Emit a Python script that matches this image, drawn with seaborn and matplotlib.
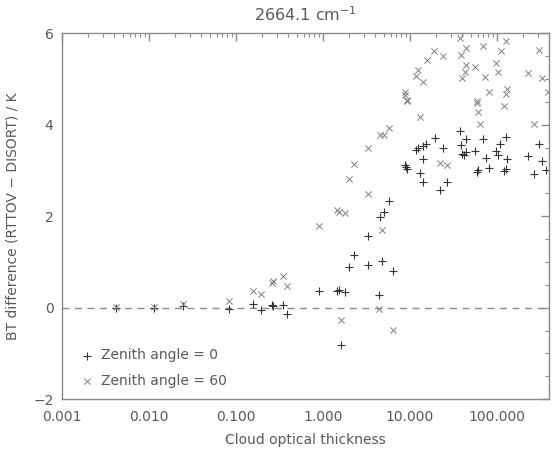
import numpy as np
import pandas as pd
import matplotlib
matplotlib.use("Agg")
import matplotlib.pyplot as plt
from matplotlib.ticker import LogLocator, MultipleLocator, FixedLocator, FixedFormatter, NullFormatter
import seaborn as sns

# Zenith angle = 0 (plus markers)
tau_z0 = [0.0042, 0.0114, 0.0245, 0.083, 0.156, 0.196, 0.262, 0.27, 0.348, 0.386,
          0.906, 1.45, 1.55, 1.81, 1.63, 2.0, 2.26, 3.30, 3.30, 4.41, 4.74, 6.44,
          4.55, 5.05, 5.79, 8.77, 9.0, 9.17,
          37.4, 44.7, 69.2, 126, 19.4, 15.5, 14.2, 24.1, 38.4, 108, 309, 12.4, 11.9,
          39.8, 41.5, 44.7, 55.6, 98.6, 103, 74.3, 130, 227, 332, 369, 14.2, 13.0,
          60.7, 59.5, 81.1, 126, 120, 271, 14.2, 26.9, 22.1]
diff_z0 = [0.00, -0.01, 0.03, -0.03, 0.07, -0.05, 0.05, 0.03, 0.05, -0.13,
           0.36, 0.37, 0.38, 0.34, -0.82, 0.89, 1.16, 1.57, 0.94, 0.27, 1.01, 0.81,
           1.98, 2.09, 2.34, 3.13, 3.07, 3.04,
           3.86, 3.68, 3.69, 3.73, 3.72, 3.57, 3.53, 3.50, 3.55, 3.59, 3.57, 3.50, 3.44,
           3.37, 3.34, 3.40, 3.42, 3.42, 3.33, 3.28, 3.25, 3.31, 3.20, 3.02, 3.26, 2.94,
           3.02, 2.97, 3.06, 3.04, 2.98, 2.93, 2.74, 2.74, 2.57]

# Zenith angle = 60 (cross markers)
tau_z60 = [0.0042, 0.0114, 0.0245, 0.083, 0.156, 0.196, 0.262, 0.27, 0.348, 0.386,
           0.906, 1.45, 1.55, 1.81, 1.63, 2.0, 2.26, 3.30, 3.30, 4.41, 4.74, 6.44,
           4.55, 5.05, 5.79, 8.77, 8.77, 9.17, 9.17,
           37.4, 126, 69.2, 44.7, 19.2, 24.1, 38.4, 112, 303, 15.8, 98.6, 44.7, 55.6,
           12.4, 42.7, 103, 227, 11.9, 39.8, 73.8, 14.2, 332, 81.1, 130, 128, 385,
           59.1, 59.1, 60.7, 120, 13.0, 63.4, 271, 22.1, 26.4]
diff_z60 = [0.02, 0.01, 0.07, 0.15, 0.36, 0.31, 0.55, 0.58, 0.69, 0.48,
            1.79, 2.13, 2.10, 2.06, -0.27, 2.82, 3.14, 3.50, 2.49, -0.02, 1.69, -0.49,
            3.77, 3.77, 3.93, 4.71, 4.66, 4.53, 4.55,
            5.90, 5.84, 5.73, 5.68, 5.61, 5.51, 5.53, 5.61, 5.64, 5.42, 5.36, 5.31, 5.27,
            5.19, 5.15, 5.15, 5.14, 5.06, 5.02, 5.04, 4.93, 5.02, 4.71, 4.79, 4.68, 4.71,
            4.51, 4.48, 4.29, 4.40, 4.17, 4.02, 4.02, 3.16, 3.13]

x_ticks = [0.001, 0.01, 0.1, 1, 10, 100]
x_labels = ["0.001", "0.010", "0.100", "1.000", "10.000", "100.000"]
y_ticks = [-2, 0, 2, 4, 6]

sns.set_style("white")
TXT = "#5a5a5a"
plt.rcParams["font.family"] = ["DejaVu Sans"]
plt.rcParams["font.size"] = 10

df0 = pd.DataFrame({"tau": tau_z0, "diff": diff_z0})
df60 = pd.DataFrame({"tau": tau_z60, "diff": diff_z60})

fig = plt.figure(figsize=(5.57, 4.5), dpi=100)
ax = fig.add_axes([0.111, 0.113, 0.875, 0.813])

sns.scatterplot(data=df0, x="tau", y="diff", marker="+", color="#333333",
                s=28, linewidth=0.8, ax=ax, label="Zenith angle = 0")
sns.scatterplot(data=df60, x="tau", y="diff", marker="x", color="#808080",
                s=20, linewidth=0.7, ax=ax, label="Zenith angle = 60")

ax.axhline(0, color="#8a8a8a", linestyle=(0, (5, 4)), linewidth=1.0, zorder=0)

ax.set_xscale("log")
ax.set_xlim(0.001, 400)
ax.set_ylim(-2, 6)
ax.xaxis.set_major_locator(FixedLocator(x_ticks))
ax.xaxis.set_major_formatter(FixedFormatter(x_labels))
ax.xaxis.set_minor_locator(LogLocator(base=10, subs=np.arange(2, 10), numticks=20))
ax.xaxis.set_minor_formatter(NullFormatter())
ax.yaxis.set_major_locator(FixedLocator(y_ticks))
ax.yaxis.set_minor_locator(MultipleLocator(0.5))

ax.tick_params(which="both", direction="in", top=True, right=True,
               colors="#8a8a8a", labelcolor=TXT, labelsize=10)
ax.tick_params(which="major", length=6, width=1)
ax.tick_params(which="minor", length=3, width=0.8)
ax.tick_params(axis="x", which="major", pad=8)
ax.tick_params(axis="y", which="major", pad=6)
for sp in ax.spines.values():
    sp.set_color("#8a8a8a")
    sp.set_linewidth(1.0)

ax.set_xlabel("Cloud optical thickness", color=TXT, fontsize=10, labelpad=6)
ax.set_ylabel("BT difference (RTTOV \u2212 DISORT) / K", color=TXT, fontsize=10, labelpad=10)
ax.set_title("2664.1 cm$^{-1}$", color=TXT, fontsize=11.5, pad=9)

leg = ax.legend(loc="lower left", bbox_to_anchor=(-0.005, -0.015), frameon=False,
                handletextpad=0.2, handlelength=1.6, fontsize=10, labelspacing=0.85,
                borderaxespad=0.8)
for t in leg.get_texts():
    t.set_color(TXT)

fig.savefig("out.png", dpi=100)
